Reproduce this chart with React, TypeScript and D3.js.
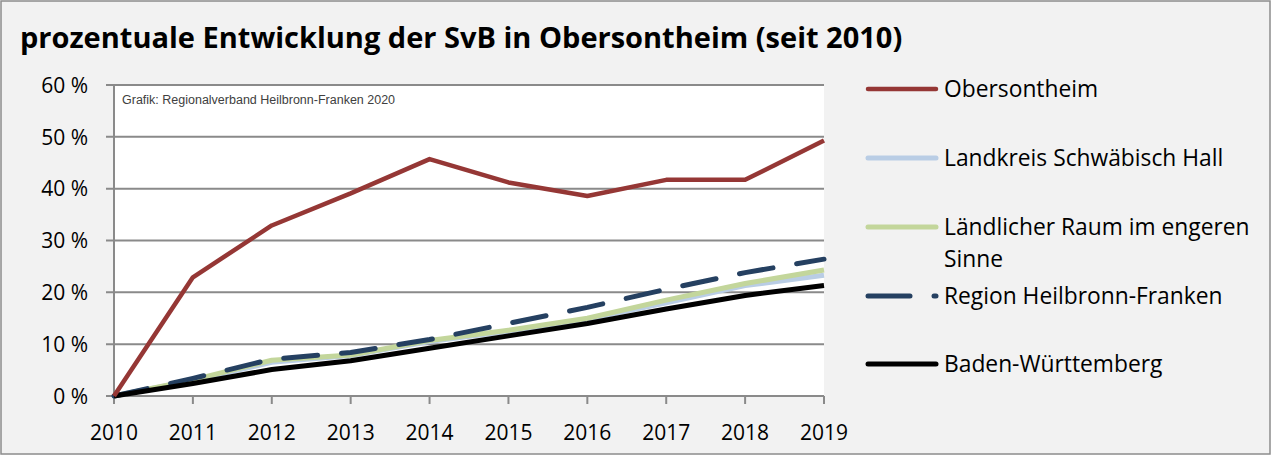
import React from 'react';
import * as d3 from 'd3';

const years = [2010, 2011, 2012, 2013, 2014, 2015, 2016, 2017, 2018, 2019];
const obersontheim = [0, 22.9, 32.9, 39.1, 45.7, 41.2, 38.6, 41.7, 41.7, 49.3];
const landkreisSHA = [0, 3.0, 6.5, 7.8, 10.5, 12.5, 14.8, 18.0, 21.3, 23.3];
const laendlicherRaum = [0, 3.1, 6.9, 7.9, 10.7, 12.7, 15.0, 18.5, 21.7, 24.3];
const regionHNF = [0, 3.4, 7.1, 8.4, 10.9, 14.0, 17.1, 20.6, 23.8, 26.4];
const badenWuerttemberg = [0, 2.4, 5.1, 6.8, 9.2, 11.6, 14.0, 16.8, 19.4, 21.3];
const yTicks = [0, 10, 20, 30, 40, 50, 60];

interface Series {
  name: string[];
  values: number[];
  color: string;
  width: number;
  dash?: string;
}

const series: Series[] = [
  { name: ['Obersontheim'], values: obersontheim, color: '#953735', width: 4.5 },
  { name: ['Landkreis Schwäbisch Hall'], values: landkreisSHA, color: '#b9cde5', width: 5 },
  { name: ['Ländlicher Raum im engeren', 'Sinne'], values: laendlicherRaum, color: '#c3d69b', width: 5 },
  { name: ['Region Heilbronn-Franken'], values: regionHNF, color: '#254061', width: 5, dash: '34,24' },
  { name: ['Baden-Württemberg'], values: badenWuerttemberg, color: '#000000', width: 5 },
];

// legend row positions (line y)
const legendY = [89, 158, 227, 296, 364];

const FONT = '"Open Sans", sans-serif';

export default function App() {
  const width = 1271;
  const height = 455;
  const plot = { left: 114, right: 824, top: 85, bottom: 396 };

  const x = d3.scaleLinear().domain([2010, 2019]).range([plot.left, plot.right]);
  const y = d3.scaleLinear().domain([0, 60]).range([plot.bottom, plot.top]);

  const line = d3
    .line<number>()
    .x((_, i) => x(years[i]))
    .y((d) => y(d));

  // draw order: light ones first, then dashed, black, red on top
  const drawOrder = [1, 2, 3, 4, 0];

  return (
    <svg
      width={width}
      height={height}
      style={{ position: 'absolute', left: 0, top: 0, fontFamily: FONT }}
    >
      <rect x={1} y={1} width={width - 2} height={height - 2} fill="#f2f2f2" stroke="#8c8c8c" strokeWidth={1.5} />

      <text x={20} y={48} fontSize={29} fontWeight="bold" fill="#000">
        prozentuale Entwicklung der SvB in Obersontheim (seit 2010)
      </text>

      {/* plot area */}
      <rect x={plot.left} y={plot.top} width={plot.right - plot.left} height={plot.bottom - plot.top} fill="#fff" />

      {yTicks.map((t) => (
        <g key={t}>
          <line x1={plot.left - 8} x2={plot.right} y1={y(t)} y2={y(t)} stroke="#8a8a8a" strokeWidth={2} />
          <text x={88} y={y(t) + 7.7} fontSize={21} textAnchor="end" fill="#000">
            {t} %
          </text>
        </g>
      ))}
      <line x1={plot.left} x2={plot.left} y1={plot.top} y2={plot.bottom} stroke="#8a8a8a" strokeWidth={2} />

      {years.map((yr) => (
        <g key={yr}>
          <line x1={x(yr)} x2={x(yr)} y1={plot.bottom} y2={plot.bottom + 8} stroke="#8a8a8a" strokeWidth={2} />
          <text x={x(yr)} y={440} fontSize={21} textAnchor="middle" fill="#000">
            {yr}
          </text>
        </g>
      ))}

      <text x={122} y={104} fontSize={12.5} fill="#404040" fontFamily='"Liberation Sans", Arial, sans-serif'>
        Grafik: Regionalverband Heilbronn-Franken 2020
      </text>

      {drawOrder.map((i) => {
        const s = series[i];
        return (
          <path
            key={i}
            d={line(s.values) ?? ''}
            fill="none"
            stroke={s.color}
            strokeWidth={s.width}
            strokeDasharray={s.dash}
            strokeLinejoin="round"
            strokeLinecap={s.dash ? 'round' : 'butt'}
          />
        );
      })}

      {/* legend */}
      {series.map((s, i) => (
        <g key={i}>
          {s.dash ? (
            <>
              <line x1={868} x2={910} y1={legendY[i]} y2={legendY[i]} stroke={s.color} strokeWidth={s.width} strokeLinecap="round" />
              <line x1={934} x2={936} y1={legendY[i]} y2={legendY[i]} stroke={s.color} strokeWidth={s.width} strokeLinecap="round" />
            </>
          ) : (
            <line x1={868} x2={936} y1={legendY[i]} y2={legendY[i]} stroke={s.color} strokeWidth={s.width} strokeLinecap="round" />
          )}
          {s.name.map((ln, j) => (
            <text key={j} x={944} y={legendY[i] + 8} fontSize={22.8} fill="#000" dy={j * 32}>
              {ln}
            </text>
          ))}
        </g>
      ))}
    </svg>
  );
}
